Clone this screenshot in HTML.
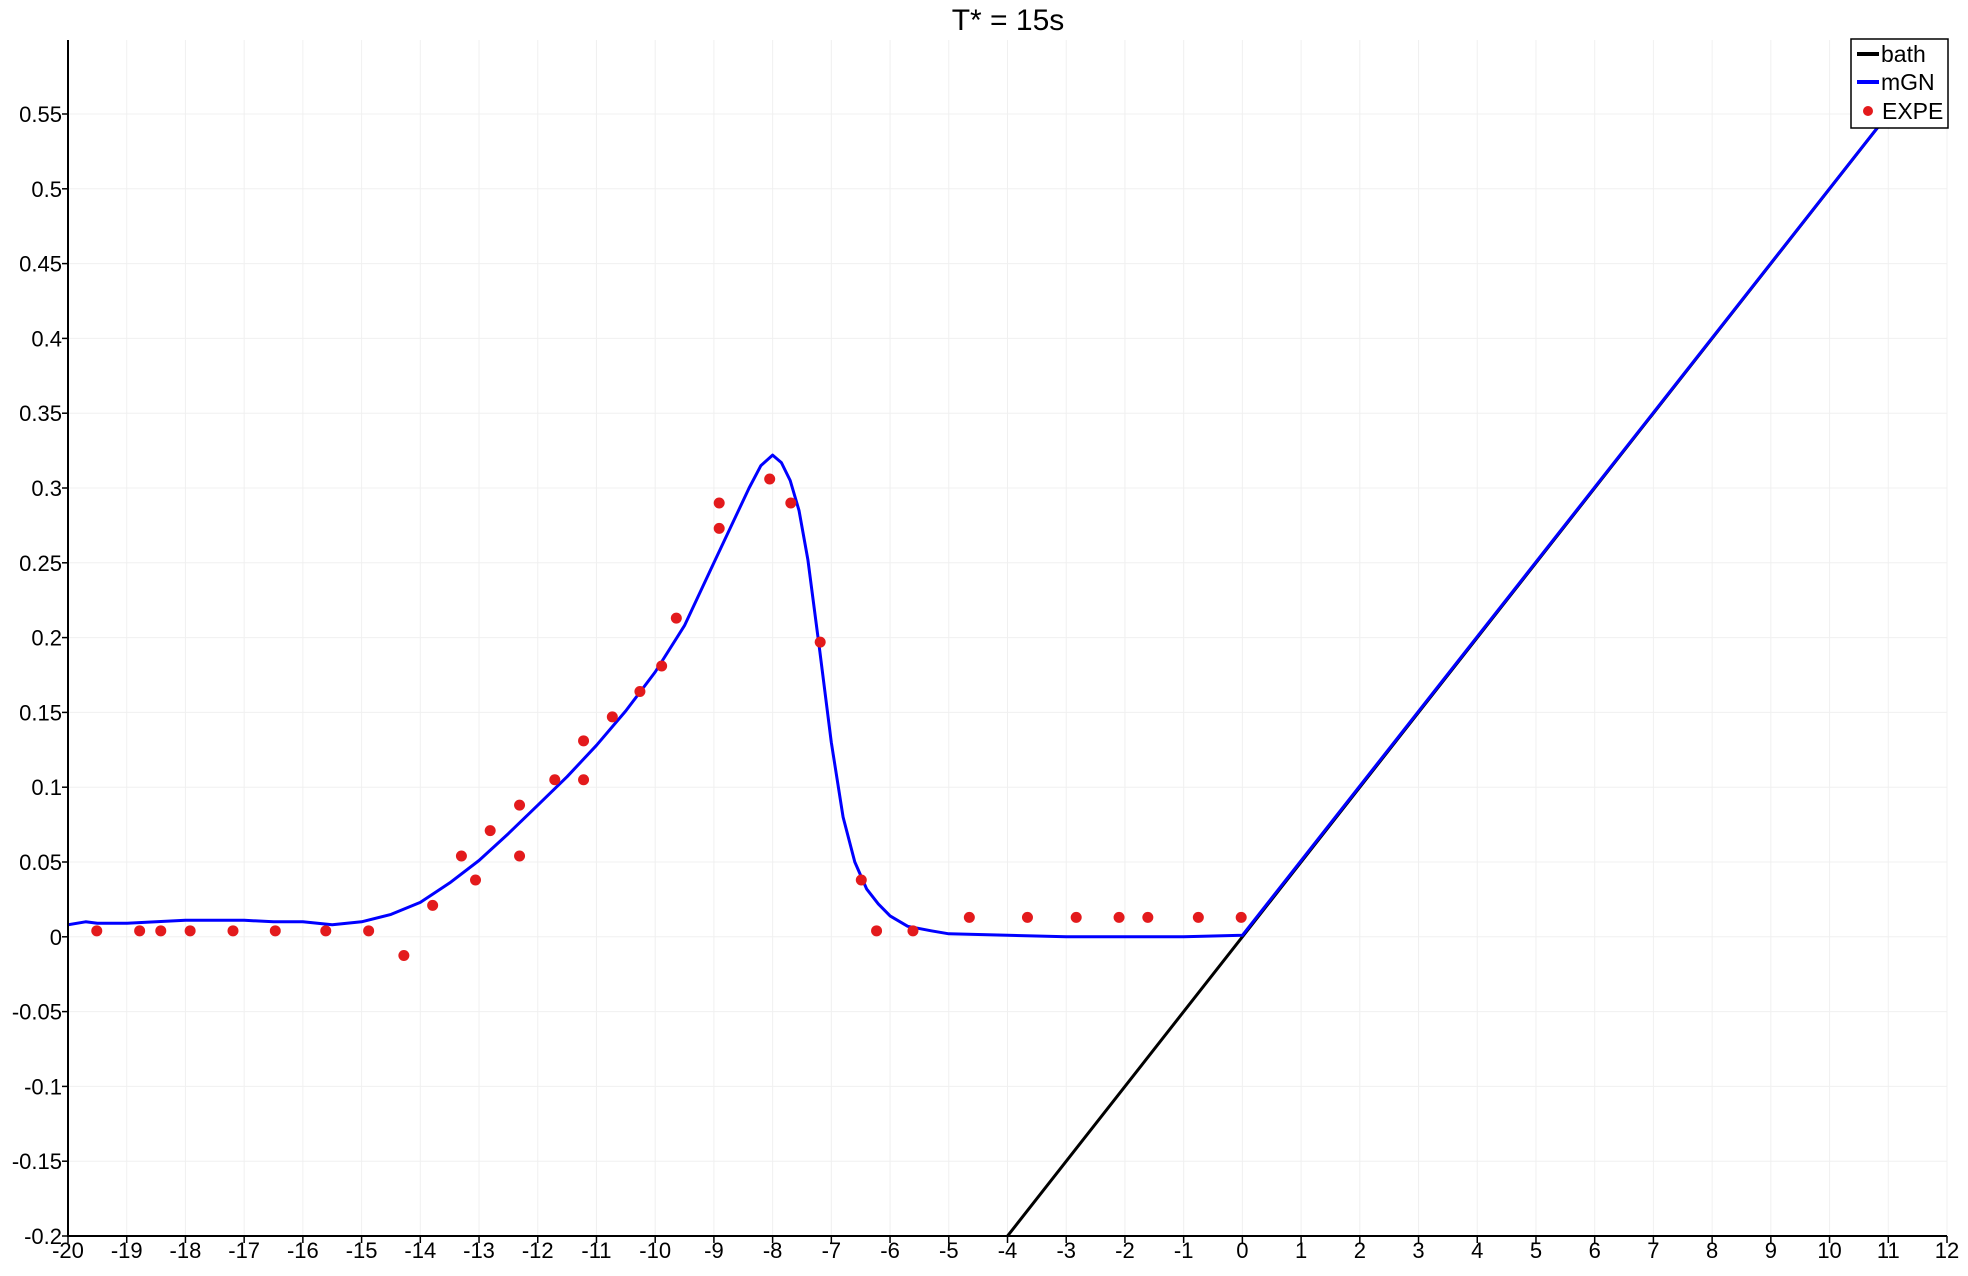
<!DOCTYPE html>
<html><head><meta charset="utf-8">
<style>
html,body{margin:0;padding:0;background:#fff;}
svg{display:block;font-family:"Liberation Sans",sans-serif;}
</style></head>
<body>
<svg id="chart" width="1968" height="1276" viewBox="0 0 1968 1276" xmlns="http://www.w3.org/2000/svg">
<text x="1008" y="30" font-size="30" text-anchor="middle" fill="#000">T* = 15s</text>
<g id="grid"></g>
<g id="series"></g>
<g id="axes"></g>
<g>
<rect x="1851" y="39" width="97" height="89" fill="#fff" stroke="#000" stroke-width="1.5"/>
<line x1="1857" y1="54" x2="1879" y2="54" stroke="#000" stroke-width="4"/>
<text x="1881" y="62" font-size="23">bath</text>
<line x1="1857" y1="82" x2="1879" y2="82" stroke="#0000ff" stroke-width="4"/>
<text x="1881" y="90" font-size="23">mGN</text>
<circle cx="1868" cy="111" r="5" fill="#e31a1c"/>
<text x="1882" y="119" font-size="23">EXPE</text>
</g>
</svg>
<script>
const xTicks=[-20,-19,-18,-17,-16,-15,-14,-13,-12,-11,-10,-9,-8,-7,-6,-5,-4,-3,-2,-1,0,1,2,3,4,5,6,7,8,9,10,11,12];
const yTicks=[-0.2,-0.15,-0.1,-0.05,0,0.05,0.1,0.15,0.2,0.25,0.3,0.35,0.4,0.45,0.5,0.55];
const yTickLabels=["-0.2","-0.15","-0.1","-0.05","0","0.05","0.1","0.15","0.2","0.25","0.3","0.35","0.4","0.45","0.5","0.55"];
const bathX=[-4,0,12];
const bathY=[-0.2,0,0.6];
const mgnX=[-20,-19.7,-19.5,-19.2,-19,-18.5,-18,-17.5,-17,-16.5,-16,-15.5,-15,-14.5,-14,-13.5,-13,-12.5,-12,-11.5,-11,-10.5,-10,-9.5,-9,-8.7,-8.4,-8.2,-8,-7.85,-7.7,-7.55,-7.4,-7.2,-7,-6.8,-6.6,-6.4,-6.2,-6,-5.7,-5.3,-5,-4,-3,-2,-1,0,12];
const mgnY=[0.008,0.01,0.009,0.009,0.009,0.01,0.011,0.011,0.011,0.01,0.01,0.008,0.01,0.015,0.023,0.036,0.051,0.069,0.088,0.107,0.128,0.151,0.177,0.208,0.25,0.275,0.3,0.315,0.322,0.317,0.305,0.285,0.252,0.192,0.13,0.08,0.05,0.032,0.022,0.014,0.007,0.004,0.002,0.001,0,0,0,0.001,0.6];
const expeX=[-19.51,-18.78,-18.42,-17.92,-17.19,-16.47,-15.61,-14.88,-14.28,-13.79,-13.30,-13.06,-12.81,-12.31,-12.31,-11.71,-11.22,-11.22,-10.73,-10.26,-9.89,-9.64,-8.91,-8.91,-8.05,-7.69,-7.19,-6.49,-6.23,-5.61,-4.65,-3.66,-2.83,-2.10,-1.61,-0.75,-0.02];
const expeY=[0.004,0.004,0.004,0.004,0.004,0.004,0.004,0.004,-0.0125,0.021,0.054,0.038,0.071,0.054,0.088,0.105,0.105,0.131,0.147,0.164,0.181,0.213,0.273,0.29,0.306,0.29,0.197,0.038,0.004,0.004,0.013,0.013,0.013,0.013,0.013,0.013,0.013];

const L=68,R=1947,T=40,B=1236;
const X=v=>L+(v+20)/32*(R-L);
const Y=v=>B-(v+0.2)/0.75*(1236-114);
const NS="http://www.w3.org/2000/svg";
function mk(tag,attrs,parent){const e=document.createElementNS(NS,tag);for(const k in attrs)e.setAttribute(k,attrs[k]);parent.appendChild(e);return e;}
const grid=document.getElementById('grid'),axes=document.getElementById('axes'),series=document.getElementById('series');
xTicks.forEach(t=>{
  const g=mk('line',{x1:X(t),x2:X(t),y1:T,y2:B,stroke:'#f0f0f0','stroke-width':1},grid);
  
  
  const tk=mk('line',{x1:X(t),x2:X(t),y1:B,y2:B+7,stroke:'#000','stroke-width':1.5},axes);
  
  
  const lb=mk('text',{x:X(t),y:B+22,'font-size':22,'text-anchor':'middle'},axes);
  lb.textContent=String(t);
  
  
});
yTicks.forEach((t,i)=>{
  const g=mk('line',{x1:L,x2:R,y1:Y(t),y2:Y(t),stroke:'#f0f0f0','stroke-width':1},grid);
  
  
  const tk=mk('line',{x1:L-6,x2:L,y1:Y(t),y2:Y(t),stroke:'#000','stroke-width':1.5},axes);
  
  
  const lb=mk('text',{x:L-6,y:Y(t)+8,'font-size':22,'text-anchor':'end'},axes);
  lb.textContent=yTickLabels[i];
  
  
});
const ax=mk('path',{d:`M${L},${T}V${B}H${R}`,fill:'none',stroke:'#000','stroke-width':2},axes);


mk('clipPath',{id:'clip'},series);
mk('rect',{x:L,y:T,width:R-L,height:B-T},series.lastChild);
function pathOf(xs,ys){return xs.map((x,i)=>(i?'L':'M')+X(x).toFixed(1)+','+Y(ys[i]).toFixed(1)).join('');}
const bp=mk('path',{d:pathOf(bathX,bathY),fill:'none',stroke:'#000','stroke-width':3,'clip-path':'url(#clip)'},series);


const mp=mk('path',{d:pathOf(mgnX,mgnY),fill:'none',stroke:'#0000ff','stroke-width':3,'stroke-linejoin':'round','clip-path':'url(#clip)'},series);


expeX.forEach((x,i)=>{
  const c=mk('circle',{cx:X(x),cy:Y(expeY[i]),r:5.5,fill:'#e31a1c'},series);
  
  
});
</script>
</body></html>
